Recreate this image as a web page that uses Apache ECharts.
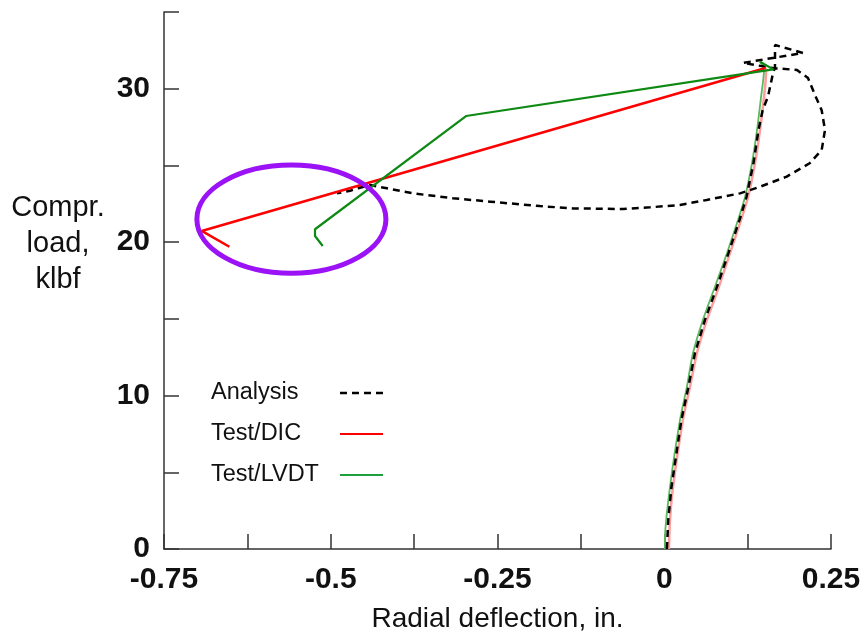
<!DOCTYPE html>
<html>
<head>
<meta charset="utf-8">
<script src="https://cdn.jsdelivr.net/npm/echarts@6/dist/echarts.min.js"></script>
<style>
  html, body { margin: 0; padding: 0; background: #fff; }
  #chart { width: 868px; height: 636px; }
</style>
</head>
<body>
<div id="chart"></div>
<script>
// Radial deflection (in.) vs compressive load (klbf)

// Analysis: rise, peak, post-buckling swing out and back to the left
const analysisX = [0.004, 0.006, 0.0108, 0.0257, 0.0362, 0.046, 0.061, 0.079, 0.0963, 0.1128, 0.1233, 0.1338, 0.1413, 0.1475, 0.1556, 0.163, 0.166, 0.1661,
  0.208, 0.118, 0.163, 0.199, 0.2155, 0.2259, 0.236, 0.241, 0.236, 0.218, 0.1836, 0.1436, 0.1136, 0.0636, 0.0236, -0.0214, -0.0619,
  -0.137, -0.1863, -0.261, -0.3167, -0.3767, -0.4157, -0.4411, -0.459, -0.471, -0.4906];
const analysisY = [0, 1.9, 4.04, 8.41, 10.56, 12.77, 14.93, 17.08, 19.29, 21.44, 22.94, 25.16, 27.31, 28.6, 29.5, 31.0, 31.4, 32.85,
  32.33, 31.68, 31.35, 31.22, 30.7, 29.6, 28.6, 27.31, 26.0, 25.14, 24.27, 23.61, 23.18, 22.75, 22.42, 22.27, 22.16,
  22.2, 22.35, 22.64, 22.86, 23.18, 23.51, 23.72, 23.51, 23.35, 23.18];

// Test/DIC: loading branch, then jump after collapse
const dicRiseX = [0.007, 0.0086, 0.0131, 0.0279, 0.0386, 0.049, 0.064, 0.0819, 0.0986, 0.1151, 0.1256, 0.1361, 0.1436, 0.1496, 0.1526, 0.152];
const dicRiseY = [0, 1.9, 4.04, 8.41, 10.56, 12.77, 14.93, 17.08, 19.29, 21.44, 22.94, 25.16, 27.31, 29.46, 31.02, 31.35];
const dicJumpX = [0.152, -0.6935, -0.652];
const dicJumpY = [31.35, 20.73, 19.70];

// Test/LVDT: loading branch, then jump after collapse
const lvdtRiseX = [0.001, 0.001, 0.0086, 0.0236, 0.0339, 0.0431, 0.0579, 0.0759, 0.0941, 0.1106, 0.1211, 0.1316, 0.1391, 0.1451, 0.1496, 0.1436];
const lvdtRiseY = [0, 0.6, 4.04, 8.41, 10.56, 12.77, 14.93, 17.08, 19.29, 21.44, 22.94, 25.16, 27.31, 29.46, 31.22, 31.76];
const lvdtJumpX = [0.1436, 0.1635, -0.2972, -0.5236, -0.5236, -0.512];
const lvdtJumpY = [31.76, 31.26, 28.22, 20.84, 20.40, 19.75];

// Highlight ring around the post-collapse test points (data units)
const ringCenter = [-0.559, 21.5];
const ringRadius = [0.1417, 3.52];

const xTicks = { min: -0.75, max: 0.25, step: 0.125 };
const yTicks = { min: 0, max: 35, step: 5 };

const zip = (xs, ys) => xs.map((x, i) => [x, ys[i]]);

const RED = '#ff0000', PINK = '#ff9c9c', GREEN = '#0e8a14', LIGHTGREEN = '#5cb85c';
const axisColor = '#333';
const labelFont = "'Liberation Sans', Arial, sans-serif";

const chart = echarts.init(document.getElementById('chart'), null, { renderer: 'canvas' });

const legendItem = (name, lineStyle) => ({
  name, lineStyle, itemStyle: { opacity: 0 }
});

const option = {
  backgroundColor: '#fff',
  animation: false,
  grid: { left: 164, right: 37, top: 12, bottom: 87, containLabel: false, outerBoundsMode: 'none' },
  xAxis: {
    type: 'value', min: xTicks.min, max: xTicks.max, interval: xTicks.step,
    name: 'Radial deflection, in.', nameLocation: 'middle', nameGap: 56,
    nameTextStyle: { fontFamily: labelFont, fontSize: 28, color: '#111' },
    axisLine: { onZero: false, lineStyle: { color: axisColor, width: 1.5 } },
    axisTick: { inside: true, length: 15, lineStyle: { color: axisColor, width: 1.5 } },
    splitLine: { show: false },
    axisLabel: {
      margin: 16, fontFamily: labelFont, fontSize: 30, fontWeight: 'bold', color: '#111',
      formatter: v => (Math.abs(v * 4 - Math.round(v * 4)) < 1e-9 ? String(+v.toFixed(2)) : '')
    }
  },
  yAxis: {
    type: 'value', min: yTicks.min, max: yTicks.max, interval: yTicks.step,
    axisLine: { show: true, onZero: false, lineStyle: { color: axisColor, width: 1.5 } },
    axisTick: { show: true, inside: true, length: 15, lineStyle: { color: axisColor, width: 1.5 } },
    splitLine: { show: false },
    axisLabel: {
      margin: 14, fontFamily: labelFont, fontSize: 30, fontWeight: 'bold', color: '#111',
      formatter: v => (Math.round(v) % 10 === 0 ? String(v) : '')
    }
  },
  legend: {
    orient: 'vertical', left: 206, top: 376, align: 'right',
    itemWidth: 43, itemHeight: 14, itemGap: 17, padding: 5,
    formatter: '{t|{name}}',
    textStyle: {
      fontFamily: labelFont, fontSize: 23.5, color: '#111',
      rich: { t: { width: 124, align: 'left', fontFamily: labelFont, fontSize: 23.5, color: '#111' } }
    },
    data: [
      legendItem('Analysis', { color: '#000', type: [7, 5], width: 2.5 }),
      legendItem('Test/DIC', { color: RED, width: 2 }),
      legendItem('Test/LVDT', { color: '#1fa03c', width: 2 })
    ]
  },
  graphic: [{
    type: 'text', x: 58, y: 190,
    style: {
      text: 'Compr.\nload,\nklbf', fontFamily: labelFont, fontSize: 29,
      fill: '#111', align: 'center', verticalAlign: 'top', lineHeight: 36
    }
  }],
  series: [
    { name: 'Test/DIC', type: 'line', data: zip(dicRiseX, dicRiseY), symbol: 'none', smooth: 0.25,
      lineStyle: { color: PINK, width: 2.5 }, itemStyle: { color: PINK }, z: 2 },
    { name: 'Test/LVDT', type: 'line', data: zip(lvdtRiseX, lvdtRiseY), symbol: 'none', smooth: 0.25,
      lineStyle: { color: LIGHTGREEN, width: 1.8 }, itemStyle: { color: LIGHTGREEN }, z: 3 },
    { name: 'Analysis', type: 'line', data: zip(analysisX, analysisY), symbol: 'none',
      lineStyle: { color: '#000', width: 2.5, type: [7, 5] }, itemStyle: { color: '#000' }, z: 4 },
    { name: 'Test/DIC', type: 'line', data: zip(dicJumpX, dicJumpY), symbol: 'none',
      lineStyle: { color: RED, width: 2.5 }, itemStyle: { color: RED }, z: 5 },
    { name: 'Test/LVDT', type: 'line', data: zip(lvdtJumpX, lvdtJumpY), symbol: 'none',
      lineStyle: { color: GREEN, width: 2.2 }, itemStyle: { color: GREEN }, z: 6 }
  ]
};

chart.setOption(option);

// Place the highlight ring from data coordinates
const c = chart.convertToPixel({ gridIndex: 0 }, ringCenter);
const e = chart.convertToPixel({ gridIndex: 0 }, [ringCenter[0] + ringRadius[0], ringCenter[1] + ringRadius[1]]);
chart.setOption({
  graphic: [
    option.graphic[0],
    {
      type: 'ellipse', z: 100,
      shape: { cx: c[0], cy: c[1], rx: Math.abs(e[0] - c[0]), ry: Math.abs(c[1] - e[1]) },
      style: { fill: 'none', stroke: '#9a12f5', lineWidth: 5 }
    }
  ]
});
</script>
</body>
</html>
